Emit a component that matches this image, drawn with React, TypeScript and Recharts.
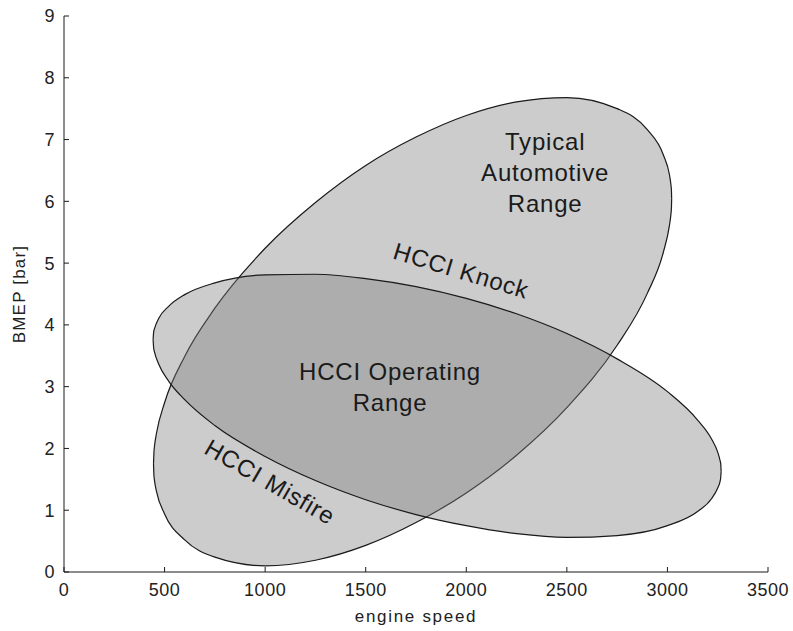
import { ComposedChart, Area, Scatter, XAxis, YAxis } from "recharts";

// axis ticks
const speedTicks = [0, 500, 1000, 1500, 2000, 2500, 3000, 3500];
const bmepTicks = [0, 1, 2, 3, 4, 5, 6, 7, 8, 9];

// "Typical Automotive Range" outline (lower / upper edge at each speed)
const typicalSpeed = [445, 447, 450, 460, 500, 600, 750, 1000, 1250, 1500, 1750, 2000, 2250, 2500, 2750, 2900, 2980, 3010, 3017, 3020, 3021];
const typicalLow = [1.75, 1.57, 1.48, 1.3, 0.94, 0.52, 0.24, 0.1, 0.19, 0.43, 0.8, 1.28, 1.89, 2.66, 3.67, 4.51, 5.18, 5.61, 5.78, 5.9, 6.04];
const typicalHigh = [1.75, 1.93, 2.04, 2.25, 2.74, 3.49, 4.27, 5.24, 5.98, 6.58, 7.04, 7.39, 7.61, 7.68, 7.5, 7.16, 6.75, 6.43, 6.28, 6.17, 6.04];

// "HCCI Operating Range" outline
const hcciSpeed = [443, 446, 450, 470, 520, 600, 750, 1000, 1250, 1500, 1750, 2000, 2250, 2500, 2750, 3000, 3150, 3220, 3250, 3262, 3265, 3267];
const hcciLow = [3.76, 3.62, 3.56, 3.37, 3.09, 2.79, 2.37, 1.87, 1.48, 1.17, 0.93, 0.75, 0.62, 0.56, 0.59, 0.75, 0.98, 1.19, 1.36, 1.47, 1.53, 1.63];
const hcciHigh = [3.76, 3.89, 3.94, 4.1, 4.3, 4.49, 4.68, 4.81, 4.82, 4.75, 4.62, 4.43, 4.18, 3.86, 3.45, 2.92, 2.46, 2.15, 1.94, 1.8, 1.75, 1.63];

// text annotations, anchored in data units
const annotationText = [["Typical", "Automotive", "Range"], ["HCCI Knock"], ["HCCI Operating", "Range"], ["HCCI Misfire"]];
const annotationSpeed = [2392, 1975, 1621, 1025];
const annotationBmep = [6.46, 4.88, 2.99, 1.46];
const annotationAngle = [0, 17, 0, 30];

const typicalData = typicalSpeed.map((speed, i) => ({ speed, range: [typicalLow[i], typicalHigh[i]] }));
const hcciData = hcciSpeed.map((speed, i) => ({ speed, range: [hcciLow[i], hcciHigh[i]] }));
const annotations = annotationText.map((lines, i) => ({
  speed: annotationSpeed[i],
  bmep: annotationBmep[i],
  lines,
  angle: annotationAngle[i],
}));

const FONT = '"Liberation Sans", Arial, sans-serif';
const INK = "#1a1a1a";

const AnnotationShape = (props: any) => {
  const { cx, cy, payload } = props;
  if (cx == null || cy == null) return <g />;
  const lines: string[] = payload.lines;
  const gap = 31;
  const first = cy - ((lines.length - 1) * gap) / 2;
  return (
    <g transform={`rotate(${payload.angle} ${cx} ${cy})`}>
      {lines.map((line, i) => (
        <text
          key={i}
          x={cx}
          y={first + i * gap}
          textAnchor="middle"
          dominantBaseline="central"
          fontFamily={FONT}
          fontSize={24}
          letterSpacing={0.8}
          fill={INK}
        >
          {line}
        </text>
      ))}
    </g>
  );
};

const tickStyle = { fontFamily: FONT, fontSize: 18, fill: "#222", letterSpacing: 0.5 };
const noLabel = () => "";

export default function App() {
  return (
    <div style={{ position: "absolute", left: 0, top: 0, background: "#fff" }}>
      <ComposedChart width={793} height={631} margin={{ top: 16, right: 25, bottom: 0, left: 0 }}>
        <XAxis
          dataKey="speed"
          type="number"
          domain={[0, 3500]}
          ticks={speedTicks}
          allowDataOverflow
          height={59}
          tickSize={-5}
          tickMargin={16}
          tick={tickStyle}
          axisLine={{ stroke: INK }}
          tickLine={{ stroke: INK }}
          label={(p: any) => {
            const vb = p.viewBox;
            return (
              <text
                x={vb.x + vb.width / 2}
                y={vb.y + 44}
                textAnchor="middle"
                dominantBaseline="central"
                fontFamily={FONT}
                fontSize={17}
                letterSpacing={1.7}
                fill="#222"
              >
                engine speed
              </text>
            );
          }}
        />
        <XAxis
          xAxisId="top"
          orientation="top"
          type="number"
          domain={[0, 3500]}
          ticks={speedTicks}
          allowDataOverflow
          height={0}
          tickSize={-5}
          tickFormatter={noLabel}
          axisLine={{ stroke: INK }}
          tickLine={{ stroke: INK }}
        />
        <YAxis
          type="number"
          domain={[0, 9]}
          ticks={bmepTicks}
          allowDataOverflow
          width={64}
          tickSize={-5}
          tickMargin={14}
          tick={tickStyle}
          axisLine={{ stroke: INK }}
          tickLine={{ stroke: INK }}
          label={(p: any) => {
            const vb = p.viewBox;
            const x = vb.x + 19;
            const y = vb.y + vb.height / 2;
            return (
              <text
                x={x}
                y={y}
                transform={`rotate(-90 ${x} ${y})`}
                textAnchor="middle"
                dominantBaseline="central"
                fontFamily={FONT}
                fontSize={17}
                letterSpacing={1.2}
                fill="#222"
              >
                BMEP [bar]
              </text>
            );
          }}
        />
        <YAxis
          yAxisId="right"
          orientation="right"
          type="number"
          domain={[0, 9]}
          ticks={bmepTicks}
          allowDataOverflow
          width={0}
          tickSize={-5}
          tickFormatter={noLabel}
          axisLine={{ stroke: INK }}
          tickLine={{ stroke: INK }}
        />
        <Area
          data={typicalData}
          dataKey="range"
          type="monotone"
          fill="#808080"
          fillOpacity={0.4}
          stroke={INK}
          strokeWidth={1.2}
          dot={false}
          activeDot={false}
          isAnimationActive={false}
        />
        <Area
          data={hcciData}
          dataKey="range"
          type="monotone"
          fill="#808080"
          fillOpacity={0.4}
          stroke={INK}
          strokeWidth={1.2}
          dot={false}
          activeDot={false}
          isAnimationActive={false}
        />
        <Scatter data={annotations} dataKey="bmep" shape={AnnotationShape} isAnimationActive={false} />
      </ComposedChart>
    </div>
  );
}
